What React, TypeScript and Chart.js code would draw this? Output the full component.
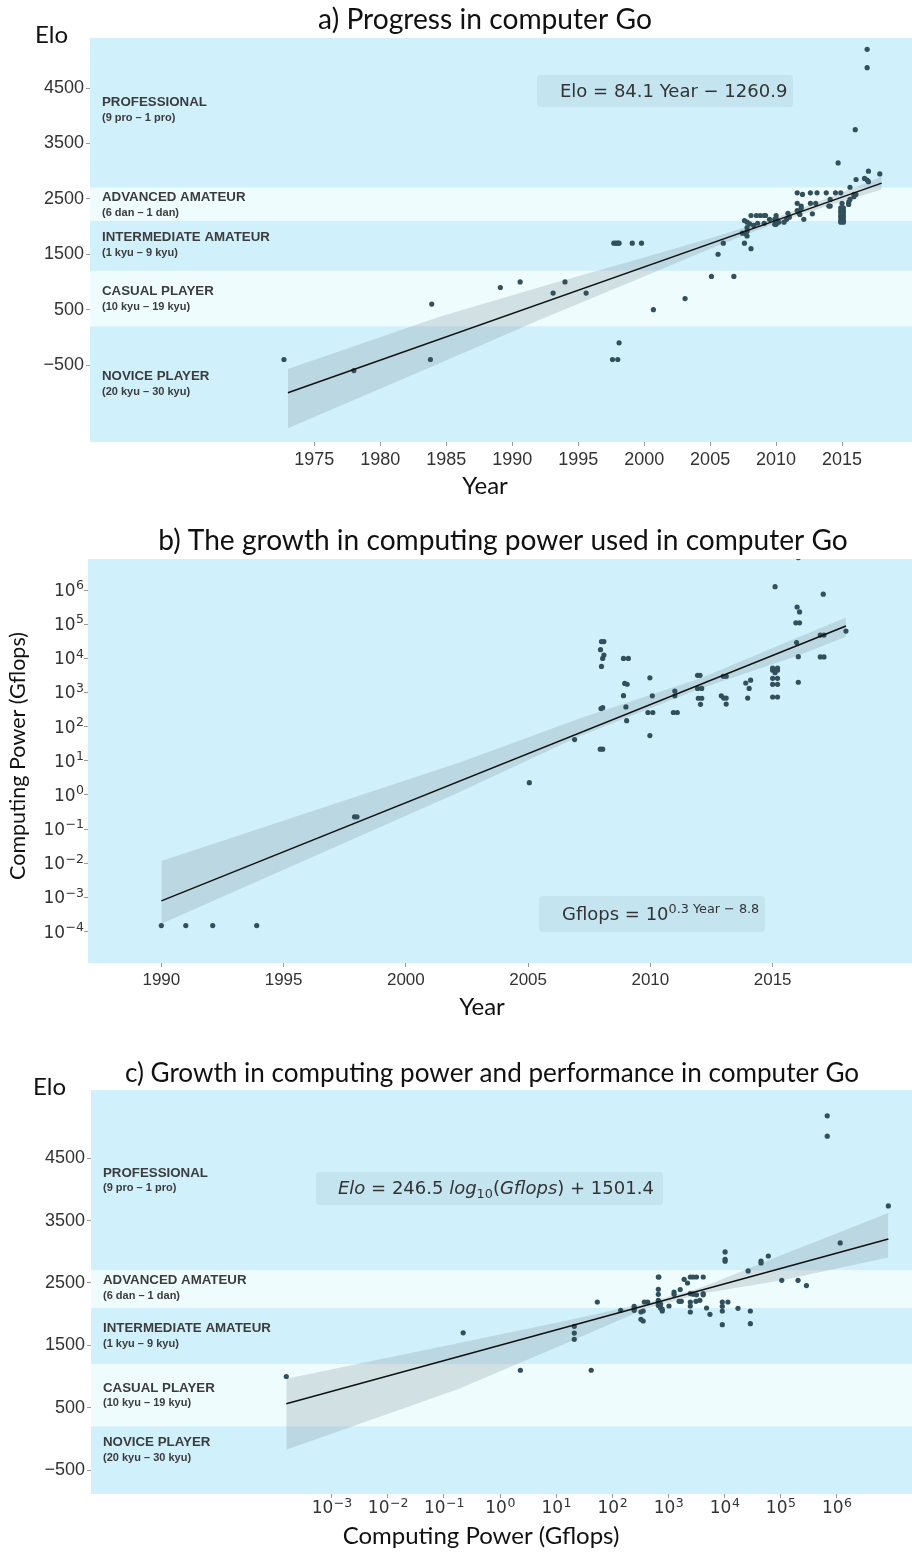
import React, { useEffect, useRef } from "react";
import { Chart, registerables } from "chart.js";

Chart.register(...registerables);

/* ---------------- shared ---------------- */
const levelNames = ["PROFESSIONAL", "ADVANCED AMATEUR", "INTERMEDIATE AMATEUR", "CASUAL PLAYER", "NOVICE PLAYER"];
const levelRanks = ["(9 pro – 1 pro)", "(6 dan – 1 dan)", "(1 kyu – 9 kyu)", "(10 kyu – 19 kyu)", "(20 kyu – 30 kyu)"];
const levelBounds = [2700, 2100, 1200, 200];
const eloTicks = [-500, 500, 1500, 2500, 3500, 4500];
const eloTickLabels = ["−500", "500", "1500", "2500", "3500", "4500"];

/* ---------------- panel a: Elo vs year ---------------- */
const aYears = [
  1972.7, 1978.0, 1983.9, 1983.8, 1989.1, 1990.6, 1993.1, 1994.0, 1995.6,
  1997.7, 1997.85, 1998.0, 1998.1, 1999.1, 1999.8, 1997.6, 1998.0, 1998.1,
  2000.7, 2003.1, 2005.1, 2006.8, 2005.6, 2006.0, 2007.6, 2008.1, 2007.45,
  2007.6, 2007.8, 2008.0, 2008.3, 2007.8, 2007.8, 2007.7, 2007.8, 2008.1,
  2008.5, 2008.8, 2009.1, 2008.6, 2009.1, 2009.2, 2009.5, 2009.9, 2009.9,
  2010.0, 2010.0, 2010.0, 2010.2, 2010.6, 2010.8, 2011.0, 2010.9, 2011.6,
  2011.8, 2011.7, 2011.9, 2011.9, 2012.1, 2012.75, 2011.6, 2012.6, 2013.0,
  2011.6, 2012.0, 2012.6, 2013.1, 2013.8, 2014.5, 2014.9, 2014.0, 2014.1,
  2014.1, 2015.0, 2014.9, 2015.1, 2014.9, 2015.1, 2014.9, 2015.1, 2014.9,
  2015.1, 2014.9, 2015.1, 2014.9, 2015.1, 2014.9, 2015.1, 2015.5, 2015.5,
  2015.6, 2015.9, 2015.9, 2016.05, 2015.6, 2016.06, 2016.7, 2016.9, 2017.0,
  2017.0, 2017.86, 2014.7, 2016.0, 2016.9, 2016.9,
];
const aElo = [
  -400, -600, 600, -400, 900, 1000, 800, 1000, 800,
  1700, 1700, 1700, 1700, 1700, 1700, -400, -400, -100,
  500, 700, 1100, 1100, 1500, 1700, 1700, 1600, 1880,
  2110, 2080, 2050, 2020, 1980, 1920, 1870, 1830, 2200,
  2200, 2200, 2200, 2060, 2060, 2200, 2130, 2130, 2040,
  2040, 2200, 2150, 2080, 2080, 2130, 2170, 2240, 2290,
  2220, 2260, 2370, 2330, 2130, 2230, 2420, 2420, 2420,
  2610, 2580, 2610, 2610, 2610, 2610, 2610, 2370, 2370,
  2490, 2420, 2340, 2340, 2290, 2290, 2250, 2250, 2200,
  2200, 2160, 2160, 2110, 2110, 2080, 2080, 2440, 2400,
  2490, 2540, 2580, 2580, 2710, 2850, 2870, 2840, 2810,
  3000, 2950, 3150, 3750, 5200, 4870,
];
const aFitYears = [1973, 2018];
const aFitElo = [-1000, 2784];
const aBandYears = [1973, 1984.5, 1992, 2000, 2005, 2010, 2014, 2018];
const aBandUpper = [-570, 370, 900, 1440, 1790, 2160, 2520, 2900];
const aBandLower = [-1640, -470, 310, 1100, 1600, 2065, 2380, 2670];
const aYearTicks = [1975, 1980, 1985, 1990, 1995, 2000, 2005, 2010, 2015];

/* ---------------- panel b: Gflops vs year ---------------- */
const bYears = [
  1990.0, 1991.0, 1992.1, 1993.9, 1997.9, 1998.0, 2005.05, 2006.9, 2007.95, 2008.05,
  2007.98, 2008.05, 2008.0, 2007.96, 2008.1, 2008.05, 2008.0, 2008.1, 2008.9, 2009.1,
  2008.95, 2009.05, 2008.9, 2009.0, 2009.03, 2009.98, 2010.08, 2009.9, 2010.1, 2009.98,
  2011.0, 2011.0, 2010.94, 2011.1, 2011.93, 2012.03, 2011.93, 2012.1, 2011.96, 2012.1,
  2012.05, 2012.98, 2013.1, 2012.9, 2013.0, 2013.1, 2013.1, 2013.9, 2014.1, 2014.04,
  2013.98, 2015.0, 2015.2, 2015.0, 2015.2, 2015.1, 2015.0, 2015.2, 2015.0, 2015.2,
  2015.0, 2015.2, 2015.1, 2016.0, 2016.1, 2015.95, 2016.1, 2015.98, 2016.05, 2016.05,
  2017.07, 2016.95, 2017.1, 2016.95, 2017.1, 2018.0, 2016.05,
];
const bGflops = [
  1.5e-4, 1.5e-4, 1.5e-4, 1.5e-4, 0.23, 0.23, 2.3, 42, 22, 22,
  340, 360, 5800, 18000, 12500, 10000, 31000, 31000, 10000, 10000,
  1850, 1750, 810, 380, 150, 2700, 800, 260, 260, 55,
  1100, 800, 260, 260, 3200, 3200, 1320, 1320, 680, 680,
  450, 3000, 3000, 800, 690, 690, 460, 1900, 2300, 1320,
  690, 5200, 5200, 4500, 4500, 3800, 2600, 2600, 1740, 1740,
  740, 740, 1260000, 320000, 230000, 110000, 110000, 29000, 11200, 2000,
  760000, 48000, 48000, 11000, 11000, 63000, 8900000,
];
const bFitYears = [1990, 2018];
const bFitGflops = [0.00079, 89000];
const bBandYears = [1990, 2002.2, 2007.1, 2012, 2016.1, 2018];
const bBandUpper = [0.0117, 8.9, 174, 2512, 42660, 158500];
const bBandLower = [0.00017, 1.23, 52.5, 1259, 12590, 42660];
const bYearTicks = [1990, 1995, 2000, 2005, 2010, 2015];
const bPowTicks = [1e-4, 1e-3, 1e-2, 1e-1, 1, 10, 100, 1e3, 1e4, 1e5, 1e6];
const bPowExponents = ["−4", "−3", "−2", "−1", "0", "1", "2", "3", "4", "5", "6"];

/* ---------------- panel c: Elo vs Gflops ---------------- */
const cGflops = [
  0.000155, 0.22, 2.3, 42, 21, 21, 21, 54, 141, 245,
  245, 245, 324, 324, 355, 355, 372, 427, 660, 660,
  660, 660, 660, 660, 676, 724, 724, 776, 776, 1023,
  1259, 1259, 1622, 1549, 1698, 1905, 2188, 2455, 2455, 2455,
  2455, 2455, 2754, 2754, 3162, 3162, 4169, 4169, 4169, 3090,
  3630, 4786, 5495, 9120, 9120, 9120, 9120, 11480, 17380, 28840,
  28840, 10230, 10230, 10230, 26300, 44670, 44670, 60260, 104700, 204000,
  288000, 676000, 676000, 1150000, 8300000,
];
const cElo = [
  1000, 1700, 1100, 1100, 1805, 1697, 1596, 2195, 2062, 2126,
  2090, 2062, 2035, 1917, 2051, 1890, 2195, 2195, 2596, 2399,
  2319, 2220, 2180, 2140, 2596, 2100, 2160, 2051, 2080, 2131,
  2355, 2319, 2394, 2206, 2206, 2559, 2500, 2596, 2330, 2195,
  2131, 2035, 2596, 2320, 2596, 2310, 2596, 2310, 2330, 2206,
  2222, 2099, 1998, 2195, 2126, 2051, 1832, 2195, 2094, 2051,
  1848, 2998, 2880, 2850, 2693, 2853, 2821, 2933, 2543, 2543,
  2458, 5181, 4855, 3142, 3736,
];
const cFitGflops = [0.000155, 8300000];
const cFitElo = [562, 3207];
const cBandGflops = [0.000155, 0.186, 20, 398, 3981, 100000, 8300000];
const cBandUpper = [965, 1537, 1920, 2180, 2430, 2940, 3624];
const cBandLower = [-174, 805, 1580, 2090, 2330, 2540, 2908];
const cPowTicks = [1e-3, 1e-2, 1e-1, 1, 10, 100, 1e3, 1e4, 1e5, 1e6];
const cPowExponents = ["−3", "−2", "−1", "0", "1", "2", "3", "4", "5", "6"];

/* ---------------- styling ---------------- */
const BAND_DARK = "#d0f0fc";
const BAND_LIGHT = "#eefcfe";
const CI_FILL = "rgba(140,160,165,0.30)";
const DOT = "#31505b";
const EQ_BOX = "rgba(130,160,175,0.15)";
const TICK_COLOR = "#333";
const TICK_FONT = '"Liberation Sans", Arial, sans-serif';
const MATH_FONT = '"DejaVu Sans", sans-serif';
const TITLE_FONT = 'Lato, "Open Sans", sans-serif';

const zip = (xs: number[], ys: number[]) => xs.map((x, i) => ({ x, y: ys[i] }));

type Part = { text: string; font: string; dy?: number };

function drawParts(ctx: CanvasRenderingContext2D, x: number, y: number, parts: Part[]) {
  let cx = x;
  for (const p of parts) {
    ctx.font = p.font;
    ctx.fillText(p.text, cx, y + (p.dy || 0));
    cx += ctx.measureText(p.text).width;
  }
}

const eq = (size: number, style = "") => `${style}${size}px ${MATH_FONT}`;

function axis(def: any, horizontal: boolean) {
  const isPow = !!def.exponents;
  return {
    type: def.type,
    min: def.min,
    max: def.max,
    afterBuildTicks: (s: any) => {
      s.ticks = def.ticks.map((v: number) => ({ value: v }));
    },
    afterFit: (s: any) => {
      if (horizontal) s.height = def.size;
      else s.width = def.size;
      s.paddingLeft = 0;
      s.paddingRight = 0;
      s.paddingTop = 0;
      s.paddingBottom = 0;
    },
    ticks: {
      autoSkip: false,
      maxRotation: 0,
      minRotation: 0,
      padding: def.pad,
      color: isPow ? "rgba(0,0,0,0)" : TICK_COLOR,
      font: { family: def.family, size: def.fontSize },
      callback: (_v: any, i: number) => (isPow ? "10" + def.exponents[i] : def.labels[i]),
    },
    grid: {
      display: true,
      drawOnChartArea: false,
      drawTicks: true,
      tickLength: 4,
      color: "#9a9a9a",
    },
    border: { display: false },
  };
}

// power-of-ten tick labels drawn as "10" with a raised exponent (mathtext style)
function drawPowLabels(ctx: CanvasRenderingContext2D, scale: any, exps: string[], horizontal: boolean) {
  const base = "10";
  ctx.fillStyle = TICK_COLOR;
  ctx.textBaseline = "middle";
  scale.ticks.forEach((t: any, i: number) => {
    const p = scale.getPixelForValue(t.value);
    ctx.font = eq(17);
    const bw = ctx.measureText(base).width;
    ctx.font = eq(12.5);
    const ew = ctx.measureText(exps[i]).width;
    if (horizontal) {
      const left = p - (bw + ew) / 2;
      const y = scale.top + 15;
      ctx.textAlign = "left";
      ctx.font = eq(17);
      ctx.fillText(base, left, y);
      ctx.font = eq(12.5);
      ctx.fillText(exps[i], left + bw + 0.5, y - 5);
    } else {
      const right = scale.right - 4;
      ctx.textAlign = "right";
      ctx.font = eq(12.5);
      ctx.fillText(exps[i], right, p - 4);
      ctx.font = eq(17);
      ctx.fillText(base, right - ew - 0.5, p + 1.5);
    }
  });
}

function makeConfig(spec: any) {
  const decor = {
    id: "decor" + spec.key,
    beforeDatasetsDraw(chart: any) {
      const { ctx, chartArea: ca } = chart;
      const ys = chart.scales.y;
      ctx.save();
      if (spec.levels) {
        const edges = [ys.max, ...levelBounds, ys.min];
        for (let i = 0; i < levelNames.length; i++) {
          const p1 = ys.getPixelForValue(edges[i]);
          const p2 = ys.getPixelForValue(edges[i + 1]);
          ctx.fillStyle = i % 2 === 0 ? BAND_DARK : BAND_LIGHT;
          ctx.fillRect(ca.left, p1, ca.right - ca.left, p2 - p1);
        }
        ctx.fillStyle = "#3c3c3c";
        ctx.textAlign = "left";
        ctx.textBaseline = "middle";
        for (let i = 0; i < levelNames.length; i++) {
          const mid = ys.getPixelForValue(spec.levelLabelAt[i]);
          ctx.font = `bold 13.3px ${TICK_FONT}`;
          ctx.fillText(levelNames[i], ca.left + 12, mid - 7.5);
          ctx.font = `bold 11px ${TICK_FONT}`;
          ctx.fillText(levelRanks[i], ca.left + 12, mid + 8);
        }
      } else {
        ctx.fillStyle = BAND_DARK;
        ctx.fillRect(ca.left, ca.top, ca.right - ca.left, ca.bottom - ca.top);
      }
      const e = spec.eq;
      ctx.fillStyle = EQ_BOX;
      ctx.beginPath();
      ctx.roundRect(e.box[0], e.box[1], e.box[2], e.box[3], 4);
      ctx.fill();
      ctx.fillStyle = "#333";
      ctx.textAlign = "left";
      ctx.textBaseline = "alphabetic";
      drawParts(ctx, e.x, e.y, e.parts);
      ctx.restore();
    },
    afterDraw(chart: any) {
      const ctx = chart.ctx;
      ctx.save();
      if (spec.x.exponents) drawPowLabels(ctx, chart.scales.x, spec.x.exponents, true);
      if (spec.y.exponents) drawPowLabels(ctx, chart.scales.y, spec.y.exponents, false);
      ctx.fillStyle = "#111";
      ctx.textBaseline = "alphabetic";
      ctx.textAlign = "center";
      ctx.font = `${spec.title.size}px ${TITLE_FONT}`;
      ctx.fillText(spec.title.text, spec.title.x, spec.title.y);
      ctx.font = `24px ${TITLE_FONT}`;
      ctx.fillText(spec.xTitle.text, spec.xTitle.x, spec.xTitle.y);
      if (spec.yTitle.rotate) {
        ctx.font = `21.5px ${TITLE_FONT}`;
        ctx.translate(spec.yTitle.x, spec.yTitle.y);
        ctx.rotate(-Math.PI / 2);
        ctx.textBaseline = "middle";
        ctx.fillText(spec.yTitle.text, 0, 0);
      } else {
        ctx.font = `24px ${TITLE_FONT}`;
        ctx.textAlign = "left";
        ctx.fillText(spec.yTitle.text, spec.yTitle.x, spec.yTitle.y);
      }
      ctx.restore();
    },
  };

  const edge = { pointRadius: 0, borderColor: "transparent", borderWidth: 0 };

  return {
    type: "line",
    data: {
      datasets: [
        { label: "fit", data: spec.fit, borderColor: "#111", borderWidth: 1.5, pointRadius: 0, fill: false, order: 0 },
        {
          label: "obs",
          data: spec.points,
          showLine: false,
          borderWidth: 0,
          pointRadius: 2.6,
          pointBackgroundColor: DOT,
          pointBorderWidth: 0,
          clip: 0,
          order: 1,
        },
        { label: "ciLow", data: spec.low, fill: false, order: 3, ...edge },
        { label: "ciHigh", data: spec.high, backgroundColor: CI_FILL, fill: "-1", order: 2, ...edge },
      ],
    },
    options: {
      responsive: false,
      animation: false,
      devicePixelRatio: 1,
      events: [],
      layout: { autoPadding: false, padding: { top: spec.padTop, left: 0, right: 0, bottom: 0 } },
      plugins: { legend: { display: false }, tooltip: { enabled: false }, title: { display: false } },
      scales: { x: axis(spec.x, true), y: axis(spec.y, false) },
    },
    plugins: [decor],
  };
}

const specs: any[] = [
  {
    key: "a",
    top: 0,
    height: 510,
    padTop: 38,
    levels: true,
    levelLabelAt: [4110, 2395, 1670, 693, -835],
    points: zip(aYears, aElo),
    fit: zip(aFitYears, aFitElo),
    low: zip(aBandYears, aBandLower),
    high: zip(aBandYears, aBandUpper),
    x: { type: "linear", min: 1958, max: 2020.3, ticks: aYearTicks, labels: aYearTicks.map(String), size: 68, pad: 3, family: TICK_FONT, fontSize: 18 },
    y: { type: "linear", min: -1890, max: 5405, ticks: eloTicks, labels: eloTickLabels, size: 90, pad: 2, family: TICK_FONT, fontSize: 18 },
    title: { text: "a) Progress in computer Go", x: 485, y: 29, size: 28.2 },
    xTitle: { text: "Year", x: 485, y: 494 },
    yTitle: { text: "Elo", x: 35, y: 43, rotate: false },
    eq: { box: [537, 75, 256, 32], x: 560, y: 97, parts: [{ text: "Elo = 84.1 Year − 1260.9", font: eq(18) }] },
  },
  {
    key: "b",
    top: 510,
    height: 520,
    padTop: 49,
    levels: false,
    points: zip(bYears, bGflops),
    fit: zip(bFitYears, bFitGflops),
    low: zip(bBandYears, bBandLower),
    high: zip(bBandYears, bBandUpper),
    x: { type: "linear", min: 1987.0, max: 2020.7, ticks: bYearTicks, labels: bYearTicks.map(String), size: 67, pad: 3, family: TICK_FONT, fontSize: 17 },
    y: { type: "logarithmic", min: 1.202e-5, max: 8.13e6, ticks: bPowTicks, exponents: bPowExponents, size: 88, pad: 2, family: MATH_FONT, fontSize: 17 },
    title: { text: "b) The growth in computing power used in computer Go", x: 503, y: 40, size: 28.1 },
    xTitle: { text: "Year", x: 482, y: 505 },
    yTitle: { text: "Computing Power (Gflops)", x: 18, y: 246, rotate: true },
    eq: {
      box: [539, 386, 226, 36],
      x: 562,
      y: 410,
      parts: [
        { text: "Gflops = 10", font: eq(18) },
        { text: "0.3 Year − 8.8", font: eq(12.8), dy: -7.5 },
      ],
    },
  },
  {
    key: "c",
    top: 1030,
    height: 522,
    padTop: 60,
    levels: true,
    levelLabelAt: [4145, 2423, 1654, 696, -184],
    points: zip(cGflops, cElo),
    fit: zip(cFitGflops, cFitElo),
    low: zip(cBandGflops, cBandLower),
    high: zip(cBandGflops, cBandUpper),
    x: { type: "logarithmic", min: 5.13e-8, max: 2.19e7, ticks: cPowTicks, exponents: cPowExponents, size: 58, pad: 3, family: MATH_FONT, fontSize: 17 },
    y: { type: "linear", min: -885, max: 5596, ticks: eloTicks, labels: eloTickLabels, size: 91, pad: 2, family: TICK_FONT, fontSize: 18 },
    title: { text: "c) Growth in computing power and performance in computer Go", x: 492, y: 52, size: 26.1 },
    xTitle: { text: "Computing Power (Gflops)", x: 481, y: 514 },
    yTitle: { text: "Elo", x: 33, y: 65, rotate: false },
    eq: {
      box: [316, 142, 347, 33],
      x: 338,
      y: 164,
      parts: [
        { text: "Elo", font: eq(18, "italic ") },
        { text: " = 246.5 ", font: eq(18) },
        { text: "log", font: eq(18, "italic ") },
        { text: "10", font: eq(12.8), dy: 4 },
        { text: "(", font: eq(18) },
        { text: "Gflops", font: eq(18, "italic ") },
        { text: ") + 1501.4", font: eq(18) },
      ],
    },
  },
];

export default function App() {
  const refs = useRef<(HTMLCanvasElement | null)[]>([]);

  useEffect(() => {
    const charts = specs.map((s, i) => new Chart(refs.current[i] as HTMLCanvasElement, makeConfig(s) as any));
    return () => charts.forEach((c) => c.destroy());
  }, []);

  return (
    <div style={{ position: "absolute", left: 0, top: 0, width: 912, height: 1552, background: "#fff", overflow: "hidden" }}>
      {specs.map((s, i) => (
        <canvas
          key={s.key}
          ref={(el) => {
            refs.current[i] = el;
          }}
          width={912}
          height={s.height}
          style={{ position: "absolute", left: 0, top: s.top, width: 912, height: s.height, display: "block" }}
        />
      ))}
    </div>
  );
}
